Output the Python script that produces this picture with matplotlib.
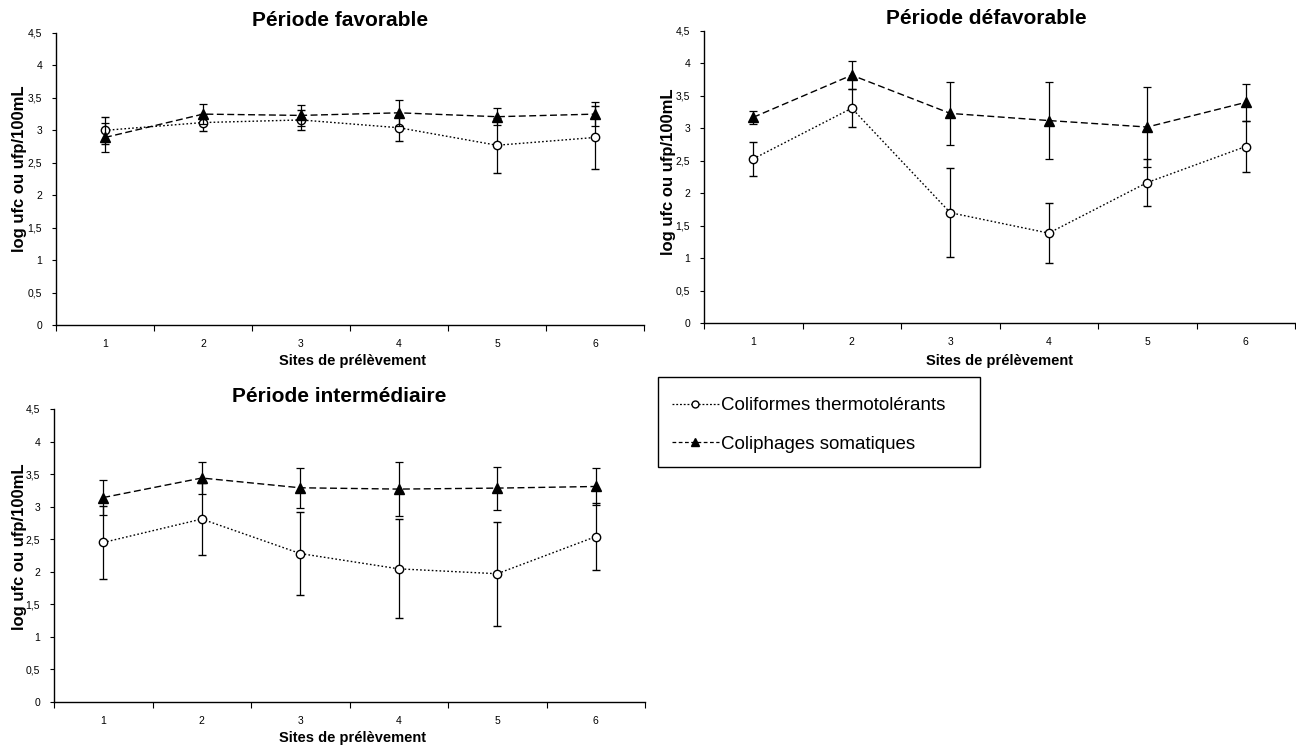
import matplotlib
matplotlib.use("Agg")
import matplotlib.pyplot as plt
from matplotlib.lines import Line2D
from matplotlib.patches import Rectangle
import numpy as np

plt.rcParams['font.family'] = ['Liberation Sans', 'DejaVu Sans']

sites = [1, 2, 3, 4, 5, 6]
site_labels = ["1", "2", "3", "4", "5", "6"]
yticks = [0, 0.5, 1, 1.5, 2, 2.5, 3, 3.5, 4, 4.5]
ytick_labels = ["0", "0,5", "1", "1,5", "2", "2,5", "3", "3,5", "4", "4,5"]

titles = ["Période favorable", "Période défavorable", "Période intermédiaire"]
series_names = ["Coliformes thermotolérants", "Coliphages somatiques"]

# Période favorable
fav_colif = [3.00, 3.12, 3.16, 3.04, 2.77, 2.89]
fav_colif_err = [0.21, 0.13, 0.16, 0.20, 0.42, 0.49]
fav_phage = [2.89, 3.25, 3.23, 3.27, 3.21, 3.25]
fav_phage_err = [0.22, 0.15, 0.16, 0.20, 0.13, 0.19]

# Période défavorable
def_colif = [2.53, 3.31, 1.70, 1.385, 2.165, 2.72]
def_colif_err = [0.26, 0.29, 0.69, 0.46, 0.36, 0.39]
def_phage = [3.17, 3.82, 3.23, 3.12, 3.02, 3.40]
def_phage_err = [0.10, 0.21, 0.48, 0.60, 0.62, 0.28]

# Période intermédiaire
int_colif = [2.45, 2.81, 2.28, 2.045, 1.97, 2.54]
int_colif_err = [0.56, 0.55, 0.64, 0.76, 0.80, 0.51]
int_phage = [3.14, 3.44, 3.29, 3.27, 3.285, 3.31]
int_phage_err = [0.27, 0.24, 0.31, 0.41, 0.33, 0.29]

W, H = 1296, 751
fig = plt.figure(figsize=(W / 100, H / 100), dpi=100)

def px_axes(l, r, t, b):
    return fig.add_axes([l / W, 1 - b / H, (r - l) / W, (b - t) / H])

# (left, right, top, bottom) in pixels
boxes = [(56, 644, 33, 325), (704, 1295, 31, 323), (54, 645, 409, 702)]
axes = [px_axes(*b) for b in boxes]
data = [
    (fav_colif, fav_colif_err, fav_phage, fav_phage_err),
    (def_colif, def_colif_err, def_phage, def_phage_err),
    (int_colif, int_colif_err, int_phage, int_phage_err),
]
# label placements in pixels
title_pos = [(340, 21), (986, 18), (339, 396)]
xlabel_pos = [(353, 361), (1000, 361), (352, 738)]
ylabel_pos = [(20, 169), (669, 172), (20, 547)]

colif_ls = (0, (1.2, 1.6))
phage_ls = (0, (5, 2.5))

for ax, (l, r, t, b), (c, ce, p, pe), title, tp, xp, yp in zip(
        axes, boxes, data, titles, title_pos, xlabel_pos, ylabel_pos):
    ax.errorbar(sites, c, yerr=ce, color='black', linestyle=colif_ls, linewidth=1.0,
                marker='o', markersize=6, markerfacecolor='white', markeredgecolor='black',
                markeredgewidth=1.0, ecolor='black', elinewidth=0.9, capsize=3, capthick=0.9,
                zorder=3)
    ax.errorbar(sites, p, yerr=pe, color='black', linestyle=phage_ls, linewidth=1.0,
                marker='^', markersize=6.5, markerfacecolor='black', markeredgecolor='black',
                ecolor='black', elinewidth=0.9, capsize=3, capthick=0.9, zorder=4)
    ax.set_xlim(0.5, 6.5)
    ax.set_ylim(0, 4.5)
    ax.set_yticks(yticks)
    ax.set_yticklabels(ytick_labels, fontsize=7.5)
    ax.set_xticks(sites)
    ax.set_xticklabels(site_labels, fontsize=7.5)
    ax.set_xticks(np.arange(0.5, 7.0, 1.0), minor=True)
    ax.tick_params(axis='x', which='major', length=0, pad=10)
    ax.tick_params(axis='x', which='minor', length=4, width=0.8, direction='out')
    ax.tick_params(axis='y', length=3, width=0.8, direction='out', pad=7)
    for s in ['top', 'right']:
        ax.spines[s].set_visible(False)
    for s in ['left', 'bottom']:
        ax.spines[s].set_linewidth(1.0)
        ax.spines[s].set_color('black')
    ax.patch.set_alpha(0)
    aw, ah = r - l, b - t
    ax.text((tp[0] - l) / aw, (b - tp[1]) / ah, title, transform=ax.transAxes,
            ha='center', va='center', fontsize=15, fontweight='bold')
    ax.set_xlabel("Sites de prélèvement", fontsize=10.5, fontweight='bold')
    ax.xaxis.label.set_va('center')
    ax.xaxis.set_label_coords((xp[0] - l) / aw, (b - xp[1]) / ah)
    ax.set_ylabel("log ufc ou ufp/100mL", fontsize=12, fontweight='bold')
    ax.yaxis.label.set_va('center')
    ax.yaxis.set_label_coords((yp[0] - l) / aw, (b - yp[1]) / ah)

# legend box
fig.add_artist(Rectangle((658 / W, 1 - 467 / H), (980 - 658) / W, (467 - 377) / H,
                         transform=fig.transFigure, facecolor='none', edgecolor='black',
                         linewidth=1.0))
leg_handles = [
    Line2D([], [], color='black', linestyle=(0, (1.5, 1.5)), linewidth=0.9, marker='o',
           markersize=5, markerfacecolor='white', markeredgecolor='black'),
    Line2D([], [], color='black', linestyle=(0, (3, 2)), linewidth=0.9, marker='^',
           markersize=6, markerfacecolor='black', markeredgecolor='black'),
]
fig.legend(leg_handles, series_names, loc='upper left',
           bbox_to_anchor=(672 / W, 1 - 397 / H), fontsize=13.5, frameon=False,
           labelspacing=1.15, handlelength=2.5, handletextpad=0.12,
           borderpad=0.0, borderaxespad=0.0, numpoints=1)

fig.savefig("out.png", dpi=100)
